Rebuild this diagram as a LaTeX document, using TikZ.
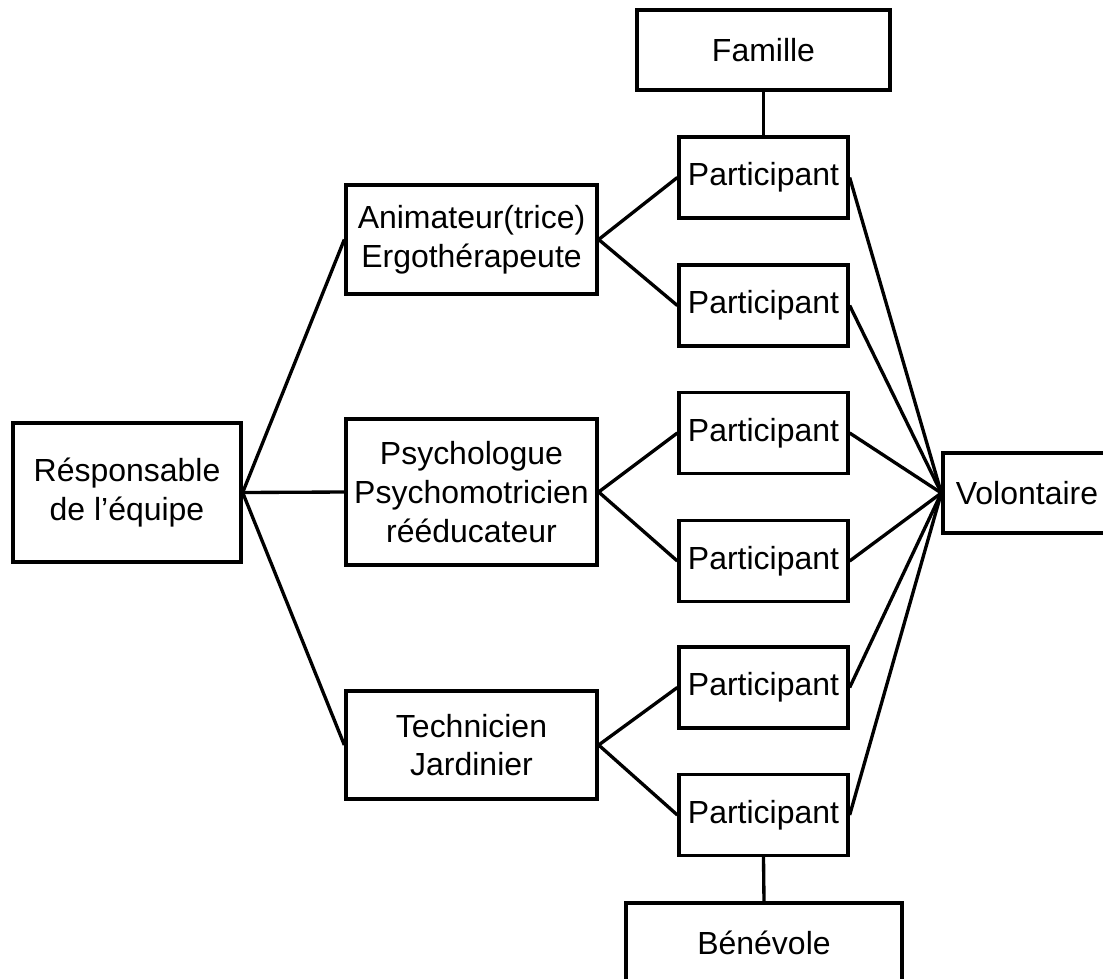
\documentclass[tikz,border=0pt]{standalone}
\usepackage{fontspec}
\setmainfont{Liberation Sans}
\begin{document}
\begin{tikzpicture}[x=0.02cm,y=-0.02cm,
  box/.style={draw=black,line width=1.9pt,rectangle,inner sep=0pt,align=center,
    font=\fontsize{18.2}{22}\selectfont},
  link/.style={line width=1.9pt}]
\useasboundingbox (0,0) rectangle (1103,978);
\node[box,minimum width=253*0.02cm,minimum height=80*0.02cm] (fam) at (763.5,50) {Famille};
\foreach \n/\y in {p1/177.5,p2/305.5,p3/433,p4/561,p5/687.5,p6/815}{
  \node[box,minimum width=169*0.02cm,minimum height=81*0.02cm] (\n) at (763.5,\y) {Participant};
}
\node[box,minimum width=276*0.02cm,minimum height=80*0.02cm] (ben) at (764,943) {Bénévole};
\node[box,minimum width=168*0.02cm,minimum height=80*0.02cm] (vol) at (1027,493) {Volontaire};
\node[box,minimum width=228*0.02cm,minimum height=139*0.02cm] (resp) at (127,492.5) {Résponsable\\de l’équipe};
\node[box,minimum width=251*0.02cm,minimum height=109*0.02cm] (ani) at (471.5,239.5) {Animateur(trice)\\Ergothérapeute};
\node[box,minimum width=251*0.02cm,minimum height=146*0.02cm] (psy) at (471.5,492) {Psychologue\\Psychomotricien\\rééducateur};
\node[box,minimum width=251*0.02cm,minimum height=108*0.02cm] (tech) at (471.5,745) {Technicien\\Jardinier};
\draw[link] (resp.east) -- (ani.west);
\draw[link] (resp.east) -- (psy.west);
\draw[link] (resp.east) -- (tech.west);
\draw[link] (ani.east) -- (p1.west);
\draw[link] (ani.east) -- (p2.west);
\draw[link] (psy.east) -- (p3.west);
\draw[link] (psy.east) -- (p4.west);
\draw[link] (tech.east) -- (p5.west);
\draw[link] (tech.east) -- (p6.west);
\foreach \n in {p1,p2,p3,p4,p5,p6}{\draw[link] (\n.east) -- (vol.west);}
\draw[link] (fam.south) -- (p1.north);
\draw[link] (p6.south) -- (ben.north);
\end{tikzpicture}
\end{document}
